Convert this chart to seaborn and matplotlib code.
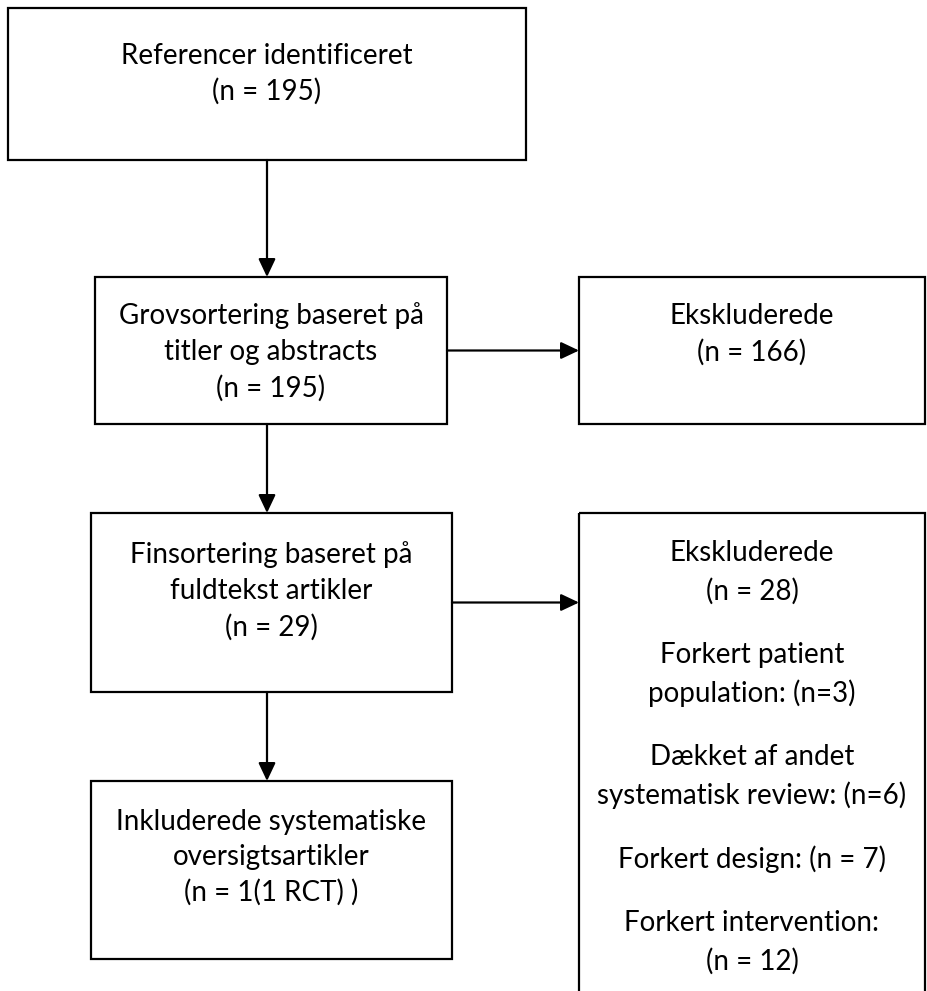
"""
Flowchart: litteratursøgning (referencer -> grovsortering -> finsortering -> inkluderede)
Drawn on a pixel-sized axes so the boxes line up with the original figure.
"""

import matplotlib
matplotlib.use("Agg")
import matplotlib.pyplot as plt
from matplotlib.patches import Rectangle
import seaborn as sns

W, H = 928, 991

# --- box texts -------------------------------------------------------------
referencer    = ["Referencer identificeret", "(n = 195)"]
grovsortering = ["Grovsortering baseret på", "titler og abstracts", "(n = 195)"]
ekskluderede1 = ["Ekskluderede", "(n = 166)"]
finsortering  = ["Finsortering baseret på", "fuldtekst artikler", "(n = 29)"]
ekskluderede2 = [
    ["Ekskluderede", "(n = 28)"],
    ["Forkert patient", "population: (n=3)"],
    ["Dækket af andet", "systematisk review: (n=6)"],
    ["Forkert design: (n = 7)"],
    ["Forkert intervention:", "(n = 12)"],
]
inkluderede   = ["Inkluderede systematiske", "oversigtsartikler", "(n = 1(1 RCT) )"]

# --- layout (pixels, y downwards): x0, x1, y0, y1 ---------------------------
BOX_1 = (8, 526, 8, 160)
BOX_2 = (95, 447, 277, 424)
BOX_3 = (579, 925, 277, 424)
BOX_4 = (91, 452, 513, 692)
BOX_5 = (579, 925, 513, 1010)   # runs off the bottom of the page
BOX_6 = (91, 452, 781, 959)
ARROW_X = 267

LINE = 36        # line spacing inside a paragraph
PARA = 64        # spacing between paragraphs in the big exclusion box
FONT = ["Lato", "DejaVu Sans"]
FS = 20

sns.set_theme(style="white")
plt.rcParams["font.family"] = FONT

fig = plt.figure(figsize=(W / 100, H / 100), dpi=100)
ax = fig.add_axes([0, 0, 1, 1])
ax.set_xlim(0, W)
ax.set_ylim(H, 0)
ax.axis("off")


def box(b):
    x0, x1, y0, y1 = b
    ax.add_patch(Rectangle((x0, y0), x1 - x0, y1 - y0, fill=False,
                           edgecolor="black", linewidth=1.6))


def lines(b, txt, y_first, step=LINE):
    cx = (b[0] + b[1]) / 2
    for i, t in enumerate(txt):
        ax.text(cx, y_first + i * step, t, ha="center", va="center",
                fontsize=FS, color="black")


def arrow(x0, y0, x1, y1):
    ax.annotate("", xy=(x1, y1), xytext=(x0, y0),
                arrowprops=dict(arrowstyle="-|>,head_length=0.55,head_width=0.26",
                                mutation_scale=20, lw=1.6, color="black",
                                shrinkA=0, shrinkB=0))


for b in (BOX_1, BOX_2, BOX_3, BOX_4, BOX_5, BOX_6):
    box(b)

lines(BOX_1, referencer, 56, 35)
lines(BOX_2, grovsortering, 316)
lines(BOX_3, ekskluderede1, 316)
lines(BOX_4, finsortering, 555)
lines(BOX_6, inkluderede, 822, 35)

# the big exclusion box: paragraphs with extra space between them
y = 553
for para in ekskluderede2:
    lines(BOX_5, para, y, 38)
    y += 38 * (len(para) - 1) + PARA

# arrows: vertical chain on the left, exclusions to the right
arrow(ARROW_X, BOX_1[3], ARROW_X, BOX_2[2])
arrow(ARROW_X, BOX_2[3], ARROW_X, BOX_4[2])
arrow(ARROW_X, BOX_4[3], ARROW_X, BOX_6[2])
arrow(BOX_2[1], (BOX_2[2] + BOX_2[3]) / 2, BOX_3[0], (BOX_2[2] + BOX_2[3]) / 2)
arrow(BOX_4[1], (BOX_4[2] + BOX_4[3]) / 2, BOX_5[0], (BOX_4[2] + BOX_4[3]) / 2)

fig.savefig("out.png", dpi=100)
